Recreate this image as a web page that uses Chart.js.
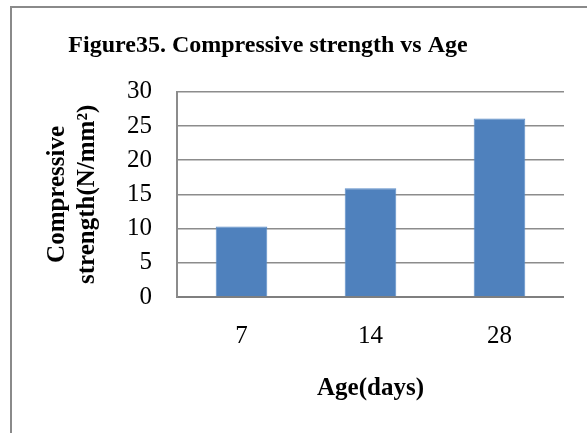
<!DOCTYPE html>
<html>
<head>
<meta charset="utf-8">
<script src="https://cdn.jsdelivr.net/npm/chart.js@4"></script>
<style>
  html, body { margin: 0; padding: 0; background: #fff; overflow: hidden; }
  body { width: 587px; height: 433px; position: relative; }
  #frame {
    position: absolute; left: 10px; top: 6px; width: 620px; height: 480px;
    border-left: 2px solid #8a8a8a; border-top: 2px solid #8a8a8a;
  }
  #wrap { position: absolute; left: -28px; top: 0; width: 592px; height: 433px; }
</style>
</head>
<body>
<div id="frame"></div>
<div id="wrap"><canvas id="chart" width="592" height="433"></canvas></div>
<script>
// Данные графика
const ages = ['7', '14', '28'];
const strengthValues = [10.3, 15.9, 26.1];
const yTicks = [0, 5, 10, 15, 20, 25, 30];

const serif = "'Liberation Serif', 'Times New Roman', serif";

new Chart(document.getElementById('chart'), {
  type: 'bar',
  data: {
    labels: ages,
    datasets: [{
      data: strengthValues,
      backgroundColor: '#4f81bd',
      borderColor: '#5b8dc8',
      borderWidth: 1,
      categoryPercentage: 0.4,
      barPercentage: 1
    }]
  },
  options: {
    responsive: false,
    animation: false,
    layout: { padding: 0 },
    plugins: {
      legend: { display: false },
      tooltip: { enabled: false },
      title: {
        display: true,
        text: 'Figure35. Compressive strength vs Age',
        color: '#000',
        font: { family: serif, size: 24, weight: 'bold' },
        padding: { top: 31, bottom: 32 }
      }
    },
    scales: {
      x: {
        afterFit: function (scale) { scale.height = 136; },
        grid: { display: false, drawTicks: false },
        border: { display: true, color: '#7f7f7f', width: 2 },
        ticks: { color: '#000', padding: 24, font: { family: serif, size: 25 } },
        title: {
          display: true,
          text: 'Age(days)',
          color: '#000',
          font: { family: serif, size: 25, weight: 'bold' },
          padding: { top: 0, bottom: 29 }
        }
      },
      y: {
        min: 0,
        max: 30,
        afterFit: function (scale) { scale.width = 205; },
        afterBuildTicks: function (scale) { scale.ticks = yTicks.map(v => ({ value: v })); },
        grid: { color: '#8c8c8c', lineWidth: 1.5, drawTicks: false },
        border: { display: true, color: '#8c8c8c', width: 2 },
        ticks: { color: '#000', padding: 25, font: { family: serif, size: 25 } },
        title: {
          display: true,
          text: ['Compressive', 'strength(N/mm²)'],
          color: '#000',
          font: { family: serif, size: 25, weight: 'bold', lineHeight: 1.2 },
          padding: { top: 71, bottom: 0 }
        }
      }
    }
  }
});
</script>
</body>
</html>
